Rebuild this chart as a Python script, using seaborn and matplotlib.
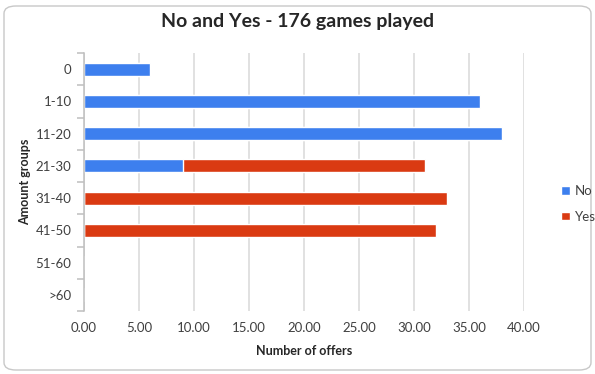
import numpy as np
import pandas as pd
import matplotlib
matplotlib.use("Agg")
import matplotlib.pyplot as plt
from matplotlib.patches import FancyBboxPatch, Patch
from matplotlib.ticker import FixedLocator
import seaborn as sns

groups = ["0", "1-10", "11-20", "21-30", "31-40", "41-50", "51-60", ">60"]
no_offers = [6, 36, 38, 9, 0, 0, 0, 0]
yes_offers = [0, 0, 0, 22, 33, 32, 0, 0]

blue = "#3D7FEE"
red = "#DA3A12"

sns.set_theme(style="white")
plt.rcParams["font.family"] = ["Lato", "DejaVu Sans"]

df = pd.DataFrame({"group": groups, "No": no_offers, "Yes": yes_offers})
df["total"] = df["No"] + df["Yes"]

fig = plt.figure(figsize=(5.95, 3.74), dpi=100)
ax = fig.add_axes([84 / 595, 1 - 311 / 374, 440 / 595, 258 / 374])

# Stacked bars: full totals in red, "No" part drawn on top in blue
sns.barplot(data=df, y="group", x="total", order=groups, color=red,
            width=0.4, ax=ax, orient="h", saturation=1)
sns.barplot(data=df, y="group", x="No", order=groups, color=blue,
            width=0.4, ax=ax, orient="h", saturation=1)

ax.set_xlim(0, 40)
ax.set_ylim(len(groups) - 0.5, -0.5)
ticks = np.arange(0, 41, 5)
ax.set_xticks(ticks)
ax.set_xticklabels([f"{v:.2f}" for v in ticks])
ax.grid(axis="x", color="#D9D9D9", linewidth=1.1)
ax.set_axisbelow(True)

for s in ["top", "right", "bottom"]:
    ax.spines[s].set_visible(False)
ax.spines["left"].set_color("#BFBFBF")
ax.spines["left"].set_linewidth(1.1)

ax.yaxis.set_minor_locator(FixedLocator(np.arange(-0.5, len(groups), 1)))
ax.tick_params(axis="y", which="major", length=0, pad=9, labelsize=9.5,
               labelcolor="#404040")
ax.tick_params(axis="y", which="minor", length=5, width=1.1, color="#BFBFBF",
               left=True)
ax.tick_params(axis="x", which="both", length=0, pad=8, labelsize=9.5,
               labelcolor="#404040")

ax.set_xlabel("Number of offers", fontsize=9, fontweight="bold",
              color="#262626", labelpad=8)
ax.set_ylabel("Amount groups", fontsize=9, fontweight="bold",
              color="#262626", labelpad=3)

fig.text(0.5, 1 - 22 / 374, "No and Yes - 176 games played", ha="center",
         va="center", fontsize=14, fontweight="bold", color="#262626")

handles = [Patch(facecolor=blue, label="No"), Patch(facecolor=red, label="Yes")]
fig.legend(handles=handles, loc="center left",
           bbox_to_anchor=(561 / 595, 1 - 204 / 374), frameon=False,
           borderpad=0, borderaxespad=0,
           fontsize=9.5, handlelength=0.65, handleheight=0.65, handletextpad=0.4,
           labelspacing=1.0, labelcolor="#404040")

border = FancyBboxPatch((4 / 595, 4 / 374), 587 / 595, 364 / 374,
                        boxstyle="round,pad=0,rounding_size=0.02",
                        transform=fig.transFigure, facecolor="none",
                        edgecolor="#C8C8C8", linewidth=1.0)
fig.patches.append(border)

fig.savefig("out.png", dpi=100)
